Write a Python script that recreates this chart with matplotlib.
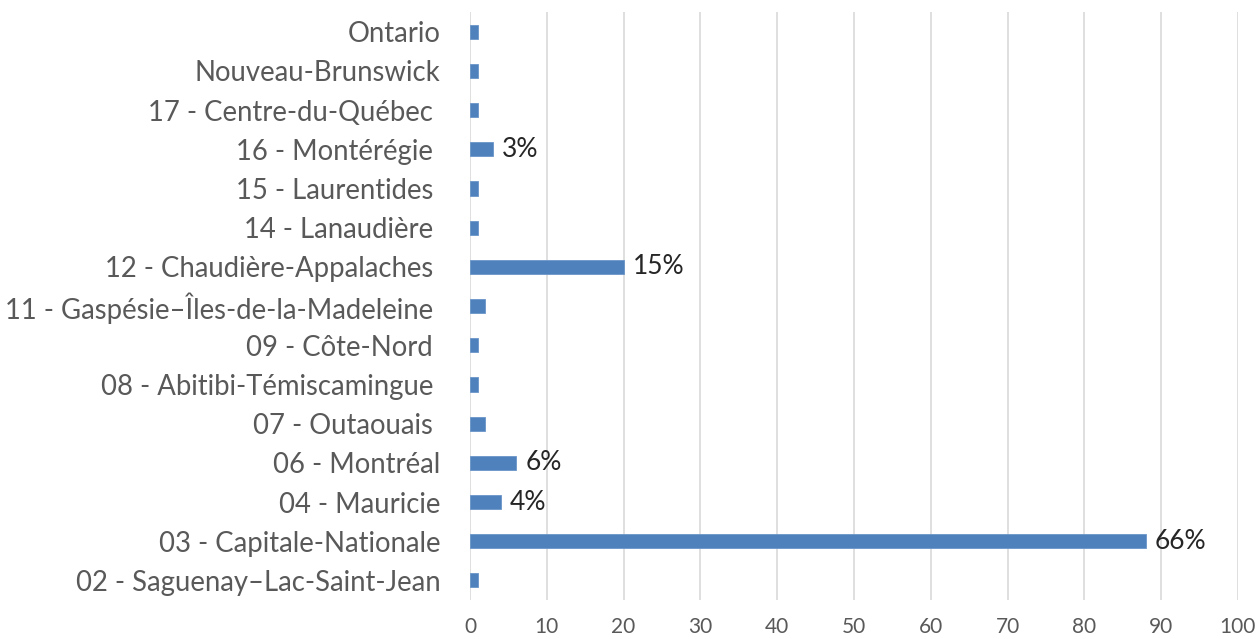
import matplotlib.pyplot as plt

# categories, top to bottom as shown in the chart
regions = ['Ontario', 'Nouveau-Brunswick', '17 - Centre-du-Québec ',
           '16 - Montérégie ', '15 - Laurentides ', '14 - Lanaudière ',
           '12 - Chaudière-Appalaches ', '11 - Gaspésie–Îles-de-la-Madeleine ',
           '09 - Côte-Nord ', '08 - Abitibi-Témiscamingue ', '07 - Outaouais ',
           '06 - Montréal', '04 - Mauricie', '03 - Capitale-Nationale',
           '02 - Saguenay–Lac-Saint-Jean']
values = [1, 1, 1, 3, 1, 1, 20, 2, 1, 1, 2, 6, 4, 88, 1]
data_labels = [None, None, None, '3%', None, None, '15%', None,
               None, None, None, '6%', '4%', '66%', None]
xticks = list(range(0, 101, 10))

plt.rcParams['font.family'] = ['Lato', 'DejaVu Sans']

fig = plt.figure(figsize=(12.58, 6.39), dpi=100)
ax = fig.add_axes([0.3736, 0.061, 0.6104, 0.92])

ypos = list(range(len(regions)))
ax.barh(ypos, values, height=0.36, color='#4F81BD', edgecolor='#6A95C8',
        linewidth=0.6, zorder=3)
for y, v, lab in zip(ypos, values, data_labels):
    if lab:
        ax.text(v + 1.2, y, lab, va='center', ha='left', fontsize=19,
                color='#262626', zorder=4)

ax.set_ylim(len(regions) - 0.5, -0.5)
ax.set_xlim(0, 100)
ax.set_yticks(ypos)
ax.set_yticklabels(regions, fontsize=19.8, color='#595959')
ax.set_xticks(xticks)
ax.set_xticklabels([str(t) for t in xticks], fontsize=15, color='#595959')
ax.tick_params(axis='y', length=0, pad=21.5)
ax.tick_params(axis='x', length=0, pad=12)
ax.grid(axis='x', color='#D9D9D9', linewidth=1.2, zorder=0)
for s in ax.spines.values():
    s.set_visible(False)

fig.savefig('out.png', dpi=100)
